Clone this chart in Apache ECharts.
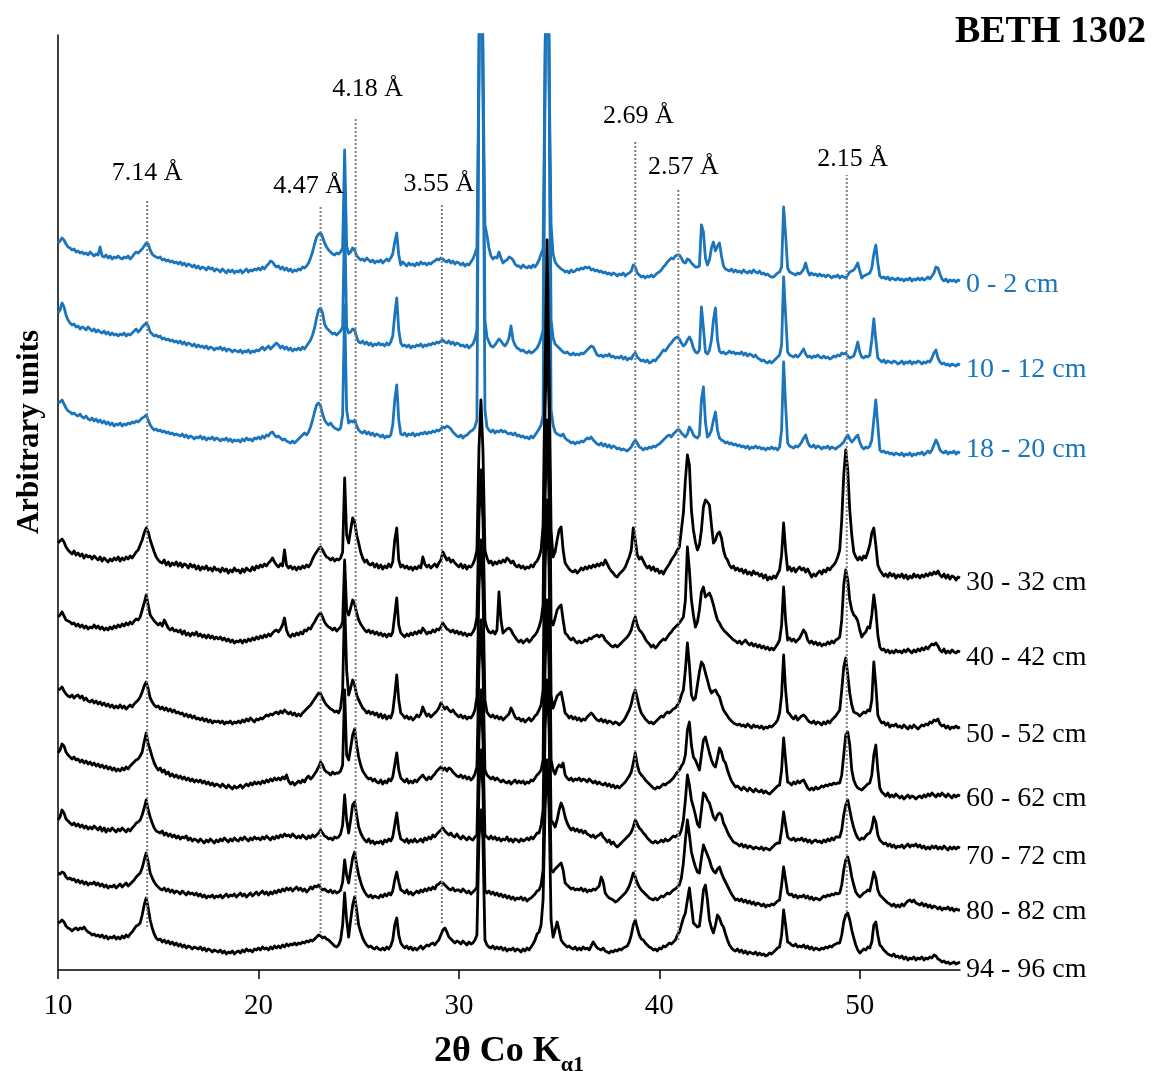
<!DOCTYPE html>
<html>
<head>
<meta charset="utf-8">
<script src="https://cdn.jsdelivr.net/npm/echarts@6/dist/echarts.min.js"></script>
<style>
  html, body { margin: 0; padding: 0; background: #fff; }
  #chart { width: 1151px; height: 1071px; }
</style>
</head>
<body>
<div id="chart"></div>
<script>
// ---------- DATA ----------
// 2θ grid of the scans: 10.0 ... 55.0 in 0.1° steps (one row below = one degree)
const twoTheta = Array.from({length: 451}, (_, i) => +(10 + i * 0.1).toFixed(1));

const sampleNames = ['0 - 2 cm', '10 - 12 cm', '18 - 20 cm', '30 - 32 cm', '40 - 42 cm',
                     '50 - 52 cm', '60 - 62 cm', '70 - 72 cm', '80 - 82 cm', '94 - 96 cm'];

// intensities (arbitrary units, already stacked as in the figure)
const d_0_2 = [
727,729,732,730,726,723,722,720,721,718,
719,717,718,716,717,715,718,716,714,716,
715,723,714,713,715,712,714,711,713,712,
714,712,711,713,712,714,711,713,716,718,
717,719,721,724,727,726,720,716,714,713,
712,713,710,711,709,710,708,709,707,708,
706,708,705,707,704,706,705,703,705,702,
704,701,703,702,700,703,701,702,699,701,
700,698,701,699,697,700,698,700,697,699,
698,700,697,699,701,698,700,699,701,700,
702,700,703,701,704,706,709,708,705,703,
704,701,703,700,702,699,701,698,700,699,
701,700,703,702,704,707,712,718,726,733,
736,737,733,727,723,720,718,716,715,717,
716,718,722,820,724,716,718,722,720,714,
712,710,711,709,712,710,708,710,707,709,
708,710,707,709,711,709,712,716,728,737,
715,705,708,706,704,707,705,706,704,707,
705,708,706,707,705,707,706,708,709,711,
710,712,711,709,708,710,707,709,706,708,
707,705,707,704,706,705,708,711,716,722,
900,1150,900,745,735,722,714,711,713,712,
718,712,707,709,710,713,712,710,706,704,
704,702,705,703,702,704,702,705,703,706,
710,716,721,900,1150,900,745,716,708,705,
703,701,700,698,699,697,700,698,699,701,
700,702,701,703,702,703,700,701,699,700,
698,699,697,698,696,697,695,697,696,694,
696,695,697,694,696,697,699,705,703,697,
695,693,694,692,694,693,695,693,695,697,
698,700,703,705,708,710,712,711,714,715,
715,712,708,707,711,710,707,705,703,703,
704,745,738,712,705,710,722,728,719,724,
727,714,704,701,700,699,701,698,700,698,
699,697,700,698,697,699,697,700,698,697,
699,696,697,695,696,694,693,693,695,697,
698,703,763,735,702,698,697,696,695,697,
696,698,701,707,699,695,697,695,696,694,
696,694,695,693,695,694,692,694,693,695,
692,694,693,692,695,698,699,700,703,707,
699,692,694,695,696,697,702,716,725,707,
694,692,693,691,693,690,692,691,690,692,
690,691,689,691,690,692,689,691,690,692,
690,692,690,691,693,691,694,697,703,702,
696,691,689,691,688,690,689,690,688,690,
689];

const d_10_12 = [
657,660,667,663,655,650,647,645,646,643,
644,641,643,642,640,643,641,639,641,638,
640,638,637,639,636,638,635,637,635,636,
634,636,635,637,634,636,635,637,639,641,
638,640,643,645,647,644,638,636,634,635,
633,634,631,632,630,631,629,630,628,629,
627,629,626,628,625,627,626,624,626,623,
625,623,624,622,624,621,623,622,620,622,
621,623,620,622,619,621,620,618,620,619,
618,620,617,619,618,620,617,619,618,620,
619,621,623,620,622,624,621,623,625,627,
625,622,624,621,623,620,622,619,621,620,
622,620,623,621,624,627,630,635,642,652,
660,662,657,646,642,640,638,636,637,635,
637,639,643,755,643,637,638,641,640,633,
628,627,629,626,628,625,627,624,626,625,
627,625,626,624,627,625,628,634,655,672,
640,627,624,625,623,625,622,624,623,625,
624,626,623,625,624,626,625,627,626,628,
627,629,630,628,627,629,626,628,625,627,
626,624,625,623,625,622,624,626,631,640,
900,1150,900,650,633,628,624,623,625,628,
631,629,626,624,627,632,644,630,625,622,
621,619,620,618,617,619,617,618,620,622,
626,632,640,900,1150,900,650,632,626,624,
622,620,618,617,618,616,615,617,615,616,
615,617,616,618,620,622,624,623,619,615,
614,615,613,615,614,616,613,614,612,613,
612,614,611,613,610,612,611,615,617,613,
611,609,610,608,610,607,608,610,609,612,
614,617,620,619,622,625,627,630,632,633,
631,627,624,626,630,633,629,622,618,617,
620,663,642,618,616,620,630,650,662,630,
619,617,618,616,617,619,617,618,616,617,
616,618,615,617,614,616,615,613,615,612,
611,609,610,608,607,609,607,609,611,613,
615,625,693,655,618,615,614,613,615,613,
615,618,621,616,613,614,612,614,613,615,
613,612,614,612,613,611,612,614,613,615,
614,617,616,617,614,612,613,614,620,628,
618,613,612,614,613,615,630,651,630,612,
610,608,610,607,609,608,607,609,608,606,
607,609,606,608,607,609,606,608,607,609,
608,606,608,607,609,608,612,617,620,612,
608,606,607,605,606,604,606,605,604,606,
605];

const d_18_20 = [
567,568,570,566,562,559,558,556,557,555,
554,556,553,552,554,551,550,552,549,551,
548,550,547,549,546,548,545,547,544,546,
545,547,544,546,545,547,546,548,547,549,
548,550,552,553,555,550,545,542,540,541,
539,540,538,539,537,538,536,537,535,536,
535,534,536,533,535,532,534,533,531,533,
532,534,531,533,530,532,531,533,530,532,
531,529,531,530,532,529,531,528,530,529,
530,528,531,529,532,530,531,529,532,531,
533,531,534,532,535,534,537,538,535,533,
534,532,530,531,529,528,527,529,527,529,
531,533,535,537,535,538,543,550,558,565,
567,564,556,550,547,545,547,544,542,541,
540,542,555,665,560,547,549,548,550,544,
540,538,537,539,536,538,535,537,534,536,
535,533,535,532,534,533,535,545,570,585,
550,536,535,537,534,536,535,537,534,536,
535,537,536,538,536,538,537,539,538,540,
539,541,543,542,544,543,541,538,536,534,
533,535,532,534,535,537,539,540,543,550,
900,1150,900,560,543,540,538,540,537,539,
538,540,538,539,537,536,537,535,537,534,
535,533,534,532,533,531,534,532,535,538,
541,545,555,900,1150,900,560,545,538,536,
535,534,536,532,530,529,527,528,526,528,
527,529,528,530,532,531,533,530,528,526,
525,527,524,526,523,525,522,524,523,521,
522,520,521,520,519,521,523,527,530,527,
523,522,520,522,521,523,522,524,523,525,
526,528,530,532,534,535,533,536,538,540,
540,537,535,533,536,543,540,535,533,532,
535,570,583,548,533,535,540,550,558,540,
532,530,529,527,528,526,527,525,526,524,
525,523,524,522,524,521,523,522,524,522,
523,521,522,520,522,521,523,521,522,520,
523,540,608,565,527,524,523,522,524,523,
525,528,532,535,528,524,523,525,522,524,
523,521,523,522,524,521,523,522,521,523,
524,526,528,532,535,531,528,530,533,535,
528,523,521,523,522,524,530,550,570,545,
520,518,519,517,518,516,517,515,517,516,
515,517,514,516,515,517,514,516,515,517,
516,518,515,517,519,517,520,525,530,526,
520,518,517,519,516,518,517,519,516,518,
517];

const d_30_32 = [
427,429,431,428,423,420,418,416,419,415,
417,414,416,412,415,413,414,411,414,412,
410,413,409,412,410,408,411,409,412,410,
413,409,412,410,413,411,414,412,415,418,
420,425,430,437,442,438,430,424,418,413,
410,408,407,410,405,408,404,407,405,408,
404,407,403,406,405,402,406,403,405,401,
404,400,403,401,404,400,402,399,403,400,
401,398,402,399,401,397,400,398,402,399,
400,397,401,398,402,400,399,403,400,404,
402,405,403,406,404,407,409,412,408,405,
403,406,404,420,405,402,404,401,403,400,
403,401,404,402,405,403,406,411,415,418,
421,423,420,416,413,412,410,412,409,411,
410,412,418,492,435,427,440,452,448,435,
427,418,412,408,410,406,405,407,403,406,
402,405,401,404,402,406,403,408,430,442,
410,403,405,402,404,401,403,400,403,401,
404,402,413,406,403,405,402,404,406,403,
407,410,418,414,410,412,408,410,407,405,
403,406,402,405,401,404,403,406,411,420,
520,570,520,420,412,407,409,405,408,406,
409,407,410,408,412,410,407,409,405,403,
405,402,404,401,403,402,405,403,407,409,
413,420,445,600,730,600,440,413,418,430,
440,443,420,407,404,401,399,398,400,397,
399,402,400,403,401,404,402,405,403,406,
404,407,405,410,406,402,399,397,394,393,
396,398,400,403,408,413,420,442,430,415,
411,413,409,405,402,404,400,403,399,401,
397,399,396,400,403,406,410,413,416,420,
423,440,457,490,515,505,460,440,428,420,
425,440,463,470,468,465,445,427,430,436,
438,432,420,413,410,405,402,404,400,402,
399,401,397,400,396,398,395,399,396,397,
394,396,392,395,390,393,391,394,392,396,
400,415,447,420,400,403,399,402,398,401,
403,400,402,398,401,397,393,396,394,397,
399,396,400,398,402,400,403,405,408,413,
420,450,495,520,500,460,435,418,413,410,
413,410,414,412,418,425,437,442,425,405,
400,397,394,396,393,397,394,396,392,395,
393,396,392,395,391,394,392,396,393,395,
392,395,393,396,394,397,395,398,396,399,
395,393,396,392,395,391,394,393,390,393,
392];

const d_40_42 = [
353,355,358,354,350,349,348,346,347,344,
346,343,345,342,344,341,343,342,345,342,
344,341,343,340,342,340,343,341,344,342,
345,343,346,344,347,345,348,346,349,351,
350,353,360,367,375,365,355,352,349,347,
345,347,344,350,346,342,340,342,339,340,
338,340,336,339,335,337,334,337,335,338,
334,336,333,335,332,335,332,334,331,333,
331,333,330,332,329,331,328,330,327,329,
328,330,327,330,328,331,329,332,330,333,
331,334,332,335,333,336,334,337,339,340,
338,341,345,352,340,335,333,336,334,337,
335,338,336,340,339,342,341,345,348,352,
355,357,353,348,345,343,342,340,342,339,
341,343,348,410,360,355,362,370,366,357,
350,346,343,340,338,340,337,339,336,338,
335,337,334,336,333,336,334,338,355,372,
345,337,335,333,336,334,337,335,338,336,
339,337,342,339,336,338,337,340,338,341,
340,343,347,344,341,340,338,340,337,339,
336,338,335,337,334,336,335,338,342,353,
450,500,450,350,342,338,337,339,336,340,
378,350,337,339,341,342,340,336,333,330,
328,330,327,329,331,328,330,333,335,338,
343,350,365,560,640,560,350,345,352,360,
363,365,350,337,335,332,330,332,329,327,
329,327,328,330,329,332,331,333,334,335,
333,335,334,330,328,326,324,323,325,323,
325,327,329,331,333,336,340,348,353,345,
340,338,335,331,328,326,323,325,322,324,
327,329,331,330,333,336,338,341,343,345,
347,350,353,370,423,400,370,355,343,348,
360,378,383,373,375,377,372,365,357,350,
347,343,340,338,336,334,332,330,329,327,
329,326,328,330,327,325,327,324,326,323,
325,322,324,321,323,320,322,320,323,326,
330,345,383,350,330,332,329,331,328,330,
332,336,340,337,330,327,329,326,328,325,
327,324,326,325,328,326,329,327,330,331,
333,350,385,400,390,370,360,355,353,349,
340,333,336,338,343,342,355,375,360,335,
323,320,321,318,320,317,319,317,320,318,
319,317,320,318,321,319,317,320,318,321,
319,322,320,323,321,324,326,325,327,324,
320,318,321,317,319,317,320,318,317,319,
318];

const d_50_52 = [
280,281,283,279,276,274,273,275,272,274,
275,272,274,270,272,269,268,270,267,269,
266,268,265,267,264,266,263,265,262,264,
262,265,262,264,261,263,265,263,266,268,
270,273,278,284,288,281,272,268,265,263,
264,261,263,260,262,259,261,258,260,257,
258,256,257,254,256,253,255,252,254,251,
252,250,252,249,251,248,250,247,249,248,
249,247,249,246,248,247,249,246,248,247,
249,247,250,248,251,249,252,250,248,251,
250,252,251,253,255,254,256,255,257,258,
256,259,257,260,258,256,258,255,257,254,
256,254,257,259,261,263,265,268,271,274,
277,276,272,268,265,263,261,260,258,259,
257,262,280,370,300,275,282,290,285,275,
270,266,262,260,257,259,256,258,255,257,
253,256,252,255,251,254,252,258,275,295,
270,257,255,252,254,251,253,250,252,255,
253,256,263,258,254,256,253,255,257,259,
262,267,264,261,263,260,258,260,257,255,
253,255,252,254,251,253,252,255,260,273,
380,430,380,270,258,255,253,255,252,254,
251,253,250,252,254,256,262,258,253,251,
252,249,251,248,250,252,249,251,254,256,
260,265,280,470,550,470,275,262,268,274,
276,278,268,257,255,252,254,251,253,250,
252,249,251,250,253,255,257,255,252,250,
249,251,248,250,247,249,248,246,248,247,
245,247,249,252,256,260,266,275,280,272,
263,257,254,251,249,247,248,246,248,250,
252,254,253,256,258,257,259,261,262,265,
268,275,280,300,327,305,275,270,272,285,
298,308,305,297,290,282,277,279,280,276,
273,266,260,257,254,251,249,247,246,245,
246,244,245,243,246,244,242,245,243,244,
242,244,241,243,242,244,243,245,247,250,
257,275,315,280,258,256,253,251,254,250,
252,254,255,253,250,248,247,249,246,248,
247,245,248,246,249,247,250,252,254,257,
260,280,303,312,295,277,265,258,257,256,
254,256,258,257,260,259,270,308,285,255,
250,247,248,245,247,243,245,244,246,243,
244,242,245,243,241,244,242,245,243,241,
243,245,244,246,245,248,247,250,249,251,
246,244,245,242,244,241,243,242,244,242,
243];

const d_60_62 = [
217,220,226,224,218,215,213,211,213,210,
211,208,210,207,209,206,208,205,207,204,
206,203,205,202,204,201,203,200,202,199,
201,199,202,200,203,201,204,206,208,210,
211,214,218,228,237,226,220,213,207,203,
200,202,198,200,196,198,194,196,193,195,
192,194,191,193,190,192,189,191,188,190,
188,190,187,189,186,188,185,187,184,186,
185,183,186,184,182,185,183,181,184,182,
183,185,182,184,186,184,187,185,188,186,
188,186,189,187,190,188,191,189,192,190,
192,190,193,191,195,189,186,188,185,187,
189,187,190,188,192,194,191,193,196,199,
203,208,205,200,198,197,195,198,196,197,
197,199,205,280,215,210,222,235,241,225,
213,205,199,196,193,191,192,189,191,188,
187,190,186,189,187,191,189,193,205,217,
200,192,190,188,191,187,189,187,190,188,
191,193,195,192,190,193,191,194,196,199,
201,203,200,202,199,202,201,198,196,194,
193,195,192,194,191,193,190,192,196,203,
300,350,300,200,195,193,191,193,190,192,
190,188,190,188,187,189,186,188,190,187,
189,187,189,186,188,187,190,189,192,195,
197,200,210,400,470,400,210,200,196,202,
205,203,207,195,192,190,192,189,191,190,
192,189,191,190,188,191,189,187,189,186,
188,186,185,187,184,186,183,185,182,184,
182,184,186,188,191,194,198,207,217,205,
198,195,193,190,188,186,184,182,181,183,
182,184,186,185,187,188,190,192,195,198,
200,204,207,215,240,248,225,213,210,205,
200,215,230,233,225,217,210,205,203,212,
222,218,210,207,200,194,189,186,183,184,
182,180,183,181,179,182,180,178,181,179,
178,180,177,179,177,176,178,180,182,184,
185,200,232,210,188,187,185,188,186,189,
187,189,190,186,182,180,182,180,183,181,
182,184,183,185,184,186,185,187,186,187,
187,195,215,235,238,225,200,190,185,182,
181,180,182,184,186,187,195,215,225,200,
182,178,176,174,177,173,175,173,176,174,
172,174,171,173,175,172,174,173,171,173,
174,172,175,173,176,174,177,175,173,176,
174,177,175,173,176,174,172,175,173,175,
174];

const d_70_72 = [
150,153,160,157,151,149,147,145,147,144,
146,143,145,142,144,141,143,141,144,142,
140,143,139,142,138,141,139,142,140,138,
141,139,142,140,138,141,139,142,144,147,
148,150,155,162,170,160,153,147,142,139,
138,137,139,135,137,134,136,133,135,132,
134,131,133,132,134,130,132,129,131,130,
128,131,129,127,130,128,131,129,127,130,
128,131,129,132,130,128,131,129,132,130,
129,132,130,133,131,129,132,130,133,131,
132,130,133,131,134,132,130,133,131,134,
132,135,133,136,134,135,133,136,134,132,
134,132,135,133,131,134,132,135,133,135,
137,140,137,134,133,131,132,130,133,132,
133,136,145,175,150,137,150,165,168,155,
143,137,133,130,128,131,127,129,126,128,
127,129,126,130,128,131,129,133,145,157,
140,131,130,128,131,127,130,128,131,128,
129,131,128,132,130,133,131,135,133,136,
138,140,142,139,137,135,137,134,133,136,
133,131,134,132,130,133,131,130,133,135,
230,280,230,135,133,131,134,131,133,130,
132,129,131,130,133,129,131,128,131,130,
128,131,129,130,132,130,133,131,134,137,
137,145,160,300,370,300,150,147,143,150,
160,167,162,153,147,143,140,142,139,141,
138,140,137,139,136,135,133,135,132,134,
135,137,133,131,128,130,126,128,125,123,
125,127,129,131,133,135,138,143,150,146,
142,140,137,135,132,130,128,127,129,127,
128,130,128,131,129,130,132,134,133,135,
135,140,150,170,195,185,170,163,155,146,
143,160,177,175,170,167,160,153,150,155,
157,155,147,143,138,134,131,128,127,126,
124,126,123,125,122,124,123,121,123,122,
121,123,120,122,121,120,122,124,126,127,
127,140,158,145,133,131,130,132,129,131,
130,132,129,131,128,130,127,129,130,128,
129,127,130,128,131,129,132,130,133,133,
133,140,155,165,170,160,150,142,136,132,
130,132,131,134,136,137,142,153,148,135,
130,128,126,127,124,126,123,125,122,124,
123,125,122,124,126,123,125,124,126,123,
125,122,124,121,123,121,124,122,124,121,
123,121,124,122,120,123,121,123,121,123,
122];

const d_80_82 = [
97,96,98,97,93,91,92,90,91,88,
90,87,89,86,88,85,87,86,88,85,
87,84,86,83,85,82,84,83,85,82,
84,86,83,85,87,84,86,88,90,93,
95,97,102,110,117,108,97,92,88,85,
83,81,80,82,79,81,78,80,77,79,
78,76,79,77,75,78,76,77,75,77,
74,76,73,75,72,74,73,75,72,74,
73,75,72,74,76,73,75,74,76,73,
75,77,74,76,73,75,77,74,76,78,
75,77,79,76,78,75,78,76,79,77,
80,78,81,79,82,80,82,79,81,83,
80,82,79,81,78,80,83,81,84,83,
85,82,80,81,79,78,80,77,79,77,
78,80,88,110,95,87,100,112,118,105,
95,88,82,78,75,73,75,72,74,73,
72,75,73,76,74,77,75,79,90,98,
88,80,79,77,80,76,78,75,77,79,
77,80,78,81,79,82,80,83,81,85,
86,88,87,85,83,81,80,82,79,80,
80,78,81,79,77,79,76,78,80,83,
180,220,180,80,77,79,76,78,75,77,
74,76,73,75,72,74,71,73,70,72,
71,73,70,72,69,71,72,74,76,79,
80,85,100,240,290,240,100,98,101,103,
105,107,100,87,85,83,81,82,80,81,
80,82,79,81,78,80,79,81,80,82,
84,93,88,77,74,72,71,70,68,69,
71,73,75,77,80,84,90,97,93,87,
83,80,78,76,74,72,71,70,72,70,
72,74,73,75,77,76,78,80,81,83,
85,92,107,130,150,135,118,110,103,98,
97,112,125,120,115,110,103,99,97,101,
103,97,92,88,84,80,76,73,70,71,
69,71,68,70,67,69,66,68,65,67,
66,64,66,63,65,64,66,65,67,69,
70,85,103,90,77,75,76,73,75,72,
74,73,75,72,74,71,73,70,72,71,
70,72,74,73,75,74,76,75,77,76,
77,85,100,110,113,105,93,85,78,75,
73,75,77,78,80,79,88,98,92,80,
75,73,71,69,67,66,64,66,63,65,
63,66,64,67,69,70,68,70,67,66,
65,67,64,66,63,65,62,64,63,61,
63,60,62,61,63,60,62,59,61,60,
60];

const d_94_96 = [
47,48,50,48,44,42,41,39,41,42,
40,42,41,43,40,38,37,35,36,34,
35,33,35,32,34,31,33,32,34,31,
33,31,34,32,35,33,36,38,41,44,
45,47,55,65,72,62,50,42,36,32,
30,31,28,30,27,29,26,28,25,27,
24,26,23,25,22,24,23,21,23,22,
21,23,20,22,19,21,20,18,20,19,
18,20,17,19,16,18,17,19,16,18,
19,17,20,18,21,19,20,18,21,20,
22,20,23,21,22,20,23,21,24,22,
24,22,25,23,26,24,26,25,27,25,
27,26,28,27,29,28,30,29,31,33,
35,34,32,33,31,30,28,26,24,23,
25,30,45,77,50,33,50,65,73,60,
45,38,32,28,25,23,24,22,21,23,
21,20,22,20,23,21,24,30,45,52,
35,27,24,22,24,21,23,20,22,20,
22,24,21,23,25,24,26,27,25,28,
30,35,40,42,38,33,31,29,27,29,
28,26,29,27,25,28,26,27,30,35,
130,160,130,30,25,23,22,24,21,23,
21,23,20,22,19,21,20,22,19,21,
20,18,21,19,22,20,23,26,30,36,
38,45,70,160,210,160,50,33,40,48,
40,30,27,25,23,24,22,21,23,20,
22,20,23,21,22,20,24,28,25,22,
21,20,22,19,18,17,19,18,20,19,
21,20,22,23,24,28,35,45,50,42,
35,31,30,27,25,23,22,20,21,19,
22,21,24,23,25,27,26,28,30,35,
38,45,52,57,70,82,65,47,45,43,
44,60,80,85,70,50,42,37,45,55,
52,46,43,36,30,25,22,20,19,21,
18,20,17,19,16,18,17,16,18,15,
17,15,16,14,15,17,16,18,20,22,
23,35,60,45,28,27,25,24,26,23,
24,23,25,22,24,21,23,20,22,21,
20,22,21,23,22,24,23,25,26,27,
27,35,48,55,57,50,40,32,25,20,
17,19,21,20,23,22,28,45,48,35,
25,23,20,18,16,15,14,16,13,14,
12,14,11,13,10,12,11,13,10,12,
11,13,10,12,11,13,12,15,14,11,
10,8,9,7,8,6,7,8,6,7,
8];

const sampleData = [d_0_2, d_10_12, d_18_20, d_30_32, d_40_42, d_50_52, d_60_62, d_70_72, d_80_82, d_94_96];
const sampleIsBlue = [true, true, true, false, false, false, false, false, false, false];

// reference d-spacings (dotted guide lines)
const refLabels = ['7.14 Å', '4.47 Å', '4.18 Å', '3.55 Å', '2.69 Å', '2.57 Å', '2.15 Å'];
const refTheta  = [14.45, 23.1, 24.85, 29.15, 38.8, 40.95, 49.35];
const refTop    = [770, 765, 853, 767, 830, 780, 795];
const refBottom = [43, 37, 45, 47, 50, 30, 58];
const refLabelTheta = [14.45, 22.5, 25.45, 29.0, 38.95, 41.2, 49.65];
const refLabelY     = [797, 784, 881, 786, 854, 803, 811];

const xTicks = [10, 20, 30, 40, 50];

// ---------- CHART ----------
const SERIF = '"Liberation Serif", "Times New Roman", serif';
const BLUE = '#1b75bc';
const labelShiftY = [4, 5, -3, 5, 6, 8, 3, 9, 2, 8];   // vertical nudge of the sample labels (px)
const chart = echarts.init(document.getElementById('chart'), null, {renderer: 'canvas'});

const series = [];
sampleNames.forEach((name, i) => {
  const col = sampleIsBlue[i] ? BLUE : '#000000';
  const vals = sampleData[i];
  const n = Math.min(vals.length, twoTheta.length);
  const pts = [];
  for (let k = 0; k < n; k++) pts.push([twoTheta[k], vals[k]]);
  series.push({
    name: name,
    type: 'line',
    data: pts,
    showSymbol: false,
    symbol: 'none',
    smooth: false,
    clip: true,
    z: sampleIsBlue[i] ? 2 : 3,
    lineStyle: {color: col, width: 2.8, join: 'round'},
    endLabel: {
      show: true,
      formatter: name,
      color: col,
      fontFamily: SERIF,
      fontSize: 28,
      distance: 6,
      offset: [0, labelShiftY[i]]
    },
    emphasis: {disabled: true}
  });
});

refLabels.forEach((lab, i) => {
  series.push({
    type: 'line',
    data: [[refTheta[i], refBottom[i]], [refTheta[i], refTop[i]]],
    showSymbol: false,
    symbol: 'none',
    z: 4,
    lineStyle: {color: '#7f7f7f', width: 2, type: [2, 2]},
    emphasis: {disabled: true}
  });
});

series.push({
  type: 'scatter',
  symbolSize: 0,
  z: 5,
  itemStyle: {opacity: 1},
  data: refLabels.map((lab, i) => ({name: lab, value: [refLabelTheta[i], refLabelY[i]]})),
  label: {
    show: true,
    position: 'inside',
    formatter: p => p.name,
    color: '#000',
    opacity: 1,
    fontFamily: SERIF,
    fontSize: 26
  },
  emphasis: {disabled: true}
});

const option = {
  animation: false,
  backgroundColor: '#ffffff',
  grid: {left: 58, right: 191, top: 35, bottom: 101, containLabel: false, outerBoundsMode: 'none'},
  xAxis: {
    type: 'value',
    min: 10,
    max: 55,
    axisLine: {show: true, lineStyle: {color: '#000', width: 1.5}},
    axisTick: {show: true, customValues: xTicks, length: 9, inside: false, lineStyle: {color: '#000', width: 1.5}},
    axisLabel: {customValues: xTicks, color: '#000', fontFamily: SERIF, fontSize: 29, margin: 22},
    splitLine: {show: false},
    name: '{a|2θ Co K}{s|α1}',
    nameLocation: 'middle',
    nameGap: 64,
    nameTextStyle: {
      rich: {
        a: {fontFamily: SERIF, fontWeight: 'bold', fontSize: 36, color: '#000', lineHeight: 42, verticalAlign: 'top'},
        s: {fontFamily: SERIF, fontWeight: 'bold', fontSize: 22, color: '#000', lineHeight: 42, verticalAlign: 'bottom'}
      }
    }
  },
  yAxis: {
    type: 'value',
    min: 0,
    max: 935,
    axisLine: {show: true, onZero: false, lineStyle: {color: '#000', width: 1.5}},
    axisTick: {show: false},
    axisLabel: {show: false},
    splitLine: {show: false}
  },
  graphic: [
    {
      type: 'text', right: 5, top: 13,
      style: {text: 'BETH 1302', fill: '#000', font: 'bold 38px ' + SERIF}
    },
    {
      type: 'text', x: 30, y: 432, rotation: Math.PI / 2,
      style: {text: 'Arbitrary units', fill: '#000', font: 'bold 31px ' + SERIF, textAlign: 'center', textVerticalAlign: 'middle'}
    }
  ],
  series: series
};
chart.setOption(option);
</script>
</body>
</html>
